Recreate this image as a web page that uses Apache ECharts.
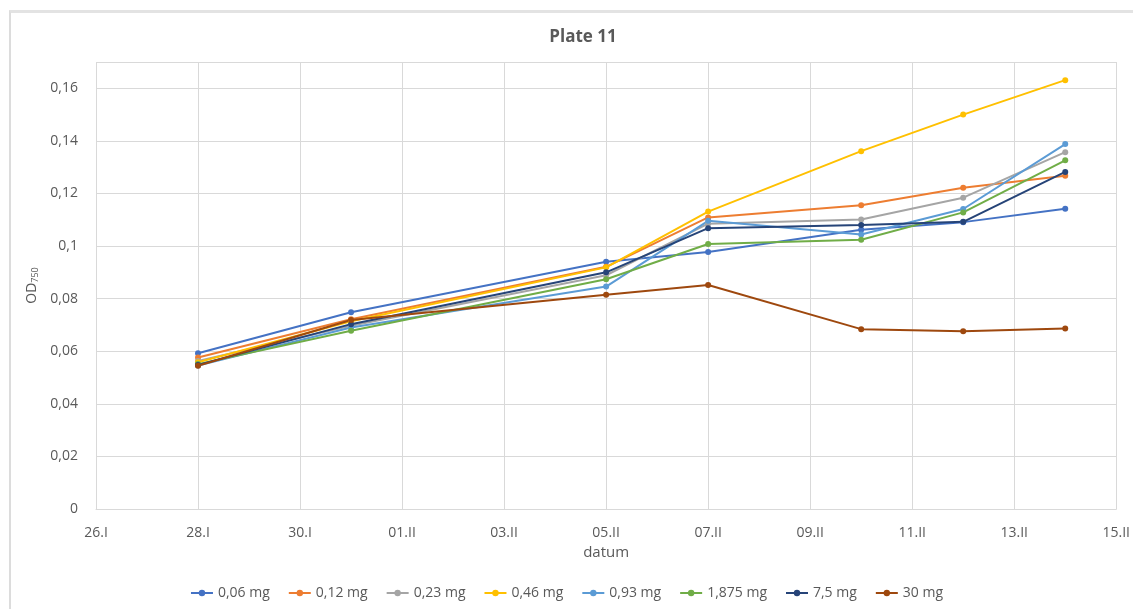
<!DOCTYPE html>
<html>
<head>
<meta charset="utf-8">
<script src="https://cdn.jsdelivr.net/npm/echarts@6/dist/echarts.min.js"></script>
<style>
  html, body { margin: 0; padding: 0; background: #fff; }
  #frame { position: absolute; left: 9px; top: 10px; width: 1130px; height: 605px;
           border-top: 3px solid #e3e3e3; border-left: 2px solid #dcdcdc; }
  #chart { position: absolute; left: 0; top: 0; width: 1133px; height: 609px; }
</style>
</head>
<body>
<div id="frame"></div>
<div id="chart"></div>
<script>
// ---- data ----
const startDate = '2023-01-26';
const dates = ['2023-01-28', '2023-01-31', '2023-02-05', '2023-02-07', '2023-02-10', '2023-02-12', '2023-02-14'];
const tickLabels = ['26.I', '28.I', '30.I', '01.II', '03.II', '05.II', '07.II', '09.II', '11.II', '13.II', '15.II'];
const seriesNames = ['0,06 mg', '0,12 mg', '0,23 mg', '0,46 mg', '0,93 mg', '1,875 mg', '7,5 mg', '30 mg'];
const s006  = [0.0592, 0.0748, 0.0940, 0.0977, 0.1062, 0.1091, 0.1142];
const s012  = [0.0576, 0.0722, 0.0921, 0.1109, 0.1155, 0.1222, 0.1267];
const s023  = [0.0563, 0.0697, 0.0889, 0.1085, 0.1101, 0.1184, 0.1357];
const s046  = [0.0558, 0.0714, 0.0919, 0.1131, 0.1361, 0.1500, 0.1631];
const s093  = [0.0546, 0.0690, 0.0846, 0.1096, 0.1044, 0.1141, 0.1388];
const s1875 = [0.0551, 0.0678, 0.0874, 0.1008, 0.1024, 0.1128, 0.1326];
const s75   = [0.0548, 0.0703, 0.0900, 0.1068, 0.1080, 0.1092, 0.1282];
const s30   = [0.0545, 0.0719, 0.0815, 0.0852, 0.0684, 0.0676, 0.0686];
const colors = ['#4472C4', '#ED7D31', '#A5A5A5', '#FFC000', '#5B9BD5', '#70AD47', '#264478', '#9E480E'];

const allValues = [s006, s012, s023, s046, s093, s1875, s75, s30];
const DAY = 86400000;
const t0 = Date.parse(startDate + 'T00:00:00Z');
const xDays = dates.map(d => Math.round((Date.parse(d + 'T00:00:00Z') - t0) / DAY));

const font = '"Liberation Sans Narrow", "Open Sans", "Noto Sans", sans-serif';
const txt = '#595959';

const chart = echarts.init(document.getElementById('chart'), null, { renderer: 'canvas' });
chart.setOption({
  animation: false,
  color: colors,
  title: {
    text: 'Plate 11', left: 578, top: 24, textAlign: 'center',
    textStyle: { fontFamily: font, fontSize: 17, fontWeight: 'bold', color: txt }
  },
  grid: { left: 96, right: 15, top: 62, bottom: 100, containLabel: false },
  xAxis: {
    type: 'value', min: 0, max: 20, interval: 2,
    name: 'datum', nameLocation: 'middle', nameGap: 36,
    nameTextStyle: { fontFamily: font, fontSize: 15, color: txt },
    axisLine: { show: true, lineStyle: { color: '#d9d9d9', width: 1 } },
    axisTick: { show: false },
    splitLine: { show: true, lineStyle: { color: '#d9d9d9', width: 1 } },
    axisLabel: {
      fontFamily: font, fontSize: 14, color: txt, margin: 17,
      formatter: v => tickLabels[Math.round(v / 2)] || ''
    }
  },
  yAxis: {
    type: 'value', min: 0, max: 0.17, interval: 0.02,
    name: 'OD{sub|750}', nameLocation: 'middle', nameGap: 48, nameRotate: 90,
    nameTextStyle: {
      fontFamily: font, fontSize: 14, color: txt,
      rich: { sub: { fontFamily: font, fontSize: 9, color: txt, verticalAlign: 'bottom', padding: [6, 0, 0, 0] } }
    },
    axisLine: { show: false },
    axisTick: { show: false },
    splitLine: { show: true, lineStyle: { color: '#d9d9d9', width: 1 } },
    axisLabel: {
      fontFamily: font, fontSize: 14, color: txt, margin: 18,
      formatter: v => (v > 0.165) ? '' : (Math.round(v * 100) / 100).toString().replace('.', ',')
    }
  },
  legend: {
    bottom: 4, left: 'center', itemGap: 18, itemWidth: 22, itemHeight: 8,
    textStyle: { fontFamily: font, fontSize: 14, color: txt },
    data: seriesNames
  },
  series: seriesNames.map((name, i) => ({
    name: name,
    type: 'line',
    data: xDays.map((x, j) => [x, allValues[i][j]]),
    symbol: 'circle', symbolSize: 6,
    lineStyle: { width: 2, color: colors[i] },
    itemStyle: { color: colors[i] }
  }))
});
</script>
</body>
</html>
